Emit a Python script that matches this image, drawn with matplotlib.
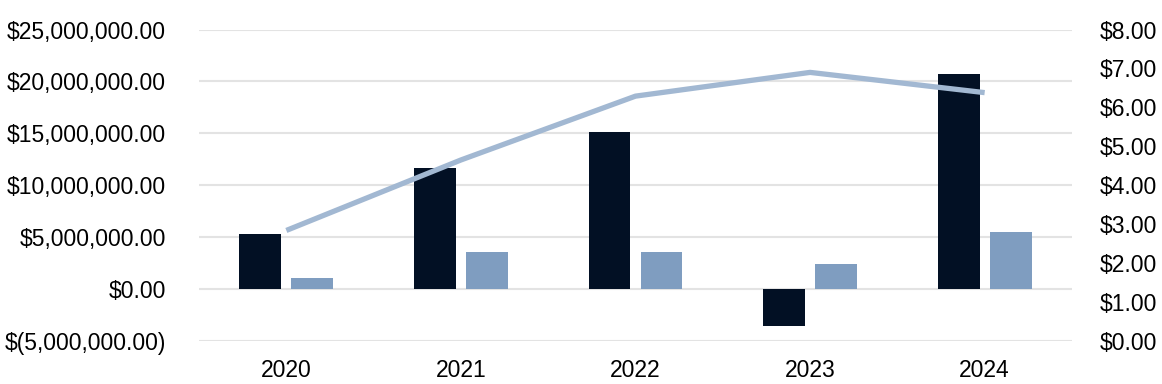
import matplotlib
matplotlib.use('Agg')
import matplotlib.pyplot as plt
import numpy as np
from matplotlib.ticker import FuncFormatter

plt.rcParams['font.family'] = ['Liberation Sans', 'DejaVu Sans']

years = ['2020', '2021', '2022', '2023', '2024']
dark_vals = [5.31e6, 11.68e6, 15.14e6, -3.51e6, 20.72e6]
light_vals = [1.10e6, 3.60e6, 3.60e6, 2.45e6, 5.53e6]
line_vals = [2.84, 4.65, 6.29, 6.90, 6.38]

DARK = '#021024'
LIGHT = '#7F9DC0'
LINE = '#A2B8D2'
GRID = '#E3E3E3'


def money_left(v, pos):
    if v < 0:
        return '$({:,.2f})'.format(-v)
    return '${:,.2f}'.format(v)


def money_right(v, pos):
    return '${:,.2f}'.format(v)


fig = plt.figure(figsize=(11.62, 3.84), dpi=100)
ax = fig.add_axes([0.1713, 0.112, 0.7512, 0.811])

x = np.arange(len(years))
w = 0.24
off = 0.149
ax.bar(x - off, dark_vals, width=w, color=DARK, zorder=3)
ax.bar(x + off, light_vals, width=w, color=LIGHT, zorder=3)

ax.set_xlim(-0.5, len(years) - 0.5)
ax.set_ylim(-5e6, 25e6)
ax.set_yticks(np.arange(-5e6, 25e6 + 1, 5e6))
ax.yaxis.set_major_formatter(FuncFormatter(money_left))
ax.grid(axis='y', color=GRID, linewidth=1.5, zorder=0)
ax.set_axisbelow(True)
ax.set_xticks(x)
ax.set_xticklabels(years)
ax.tick_params(axis='both', length=0, labelsize=16.5, colors='black')
ax.tick_params(axis='y', pad=24)
ax.tick_params(axis='x', pad=13)
for s in ax.spines.values():
    s.set_visible(False)

ax2 = ax.twinx()
ax2.plot(x, line_vals, color=LINE, linewidth=3.8, solid_capstyle='butt', zorder=4)
ax2.set_ylim(0, 8)
ax2.set_yticks(np.arange(0, 9, 1))
ax2.yaxis.set_major_formatter(FuncFormatter(money_right))
ax2.tick_params(axis='y', length=0, labelsize=16.5, pad=20, colors='black')
for s in ax2.spines.values():
    s.set_visible(False)

fig.savefig('out.png', dpi=100)
